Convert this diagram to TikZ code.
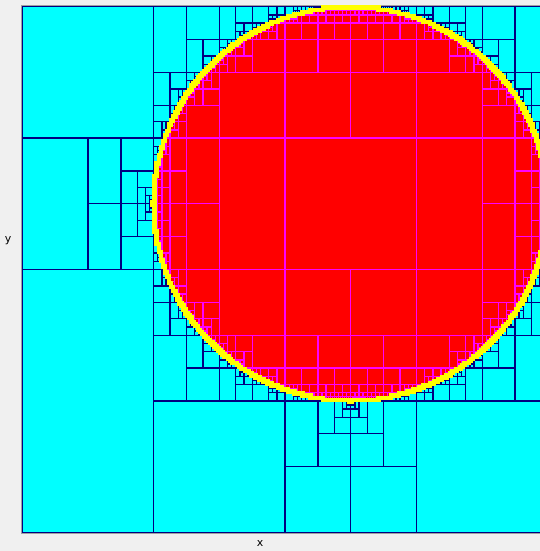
\documentclass[tikz,border=0pt]{standalone}
\usepackage{fontspec}
\setmainfont{DejaVu Sans}
\definecolor{bgc}{HTML}{F0F0F0}
\definecolor{framegrey}{HTML}{A0A0A0}
\definecolor{cyanc}{HTML}{00FFFF}
\definecolor{redc}{HTML}{FF0000}
\definecolor{magc}{HTML}{FF00FF}
\definecolor{navc}{HTML}{000080}
\definecolor{yelc}{HTML}{FFFF00}
\newdimen\qtu
\qtu=1.5398pt
\newcount\qtA \newcount\qtB \newcount\qtC \newcount\qtD
\def\qtcx{160}\def\qtcy{160}\def\qtrr{9216}
\def\qtmaxdepth{16}
\def\qtres{0}
\def\qtmode{0}
\def\qtuse{\pgfusepath{fill}}
% classify cell [#1,#3]x[#2,#4] against circle boundary
\def\qtclassify#1#2#3#4{%
  \qtA=\numexpr#1-\qtcx\relax \ifnum\qtA<0 \qtA=0 \fi
  \qtB=\numexpr\qtcx-#3\relax \ifnum\qtB>\qtA \qtA=\qtB\fi
  \qtB=\numexpr#2-\qtcy\relax \ifnum\qtB<0 \qtB=0 \fi
  \qtC=\numexpr\qtcy-#4\relax \ifnum\qtC>\qtB \qtB=\qtC\fi
  \qtD=\numexpr\qtA*\qtA+\qtB*\qtB\relax
  \ifnum\qtD>\qtrr\relax \gdef\qtres{0}\else
    \qtA=\numexpr#1-\qtcx\relax \ifnum\qtA<0 \qtA=-\qtA\fi
    \qtB=\numexpr#3-\qtcx\relax \ifnum\qtB<0 \qtB=-\qtB\fi
    \ifnum\qtB>\qtA \qtA=\qtB\fi
    \qtB=\numexpr#2-\qtcy\relax \ifnum\qtB<0 \qtB=-\qtB\fi
    \qtC=\numexpr#4-\qtcy\relax \ifnum\qtC<0 \qtC=-\qtC\fi
    \ifnum\qtC>\qtB \qtB=\qtC\fi
    \qtD=\numexpr\qtA*\qtA+\qtB*\qtB\relax
    \ifnum\qtD<\qtrr\relax \gdef\qtres{1}\else\gdef\qtres{2}\fi
  \fi}
\def\qtleaf#1#2#3#4#5{%
  \ifnum#1=\qtmode\relax
    \pgfpathrectanglecorners{\pgfqpoint{#2\qtu}{#3\qtu}}{\pgfqpoint{#4\qtu}{#5\qtu}}%
    \qtuse
  \fi}
\def\qtcell#1#2#3#4#5{%
  \qtclassify{#1}{#2}{#3}{#4}%
  \ifcase\qtres\relax
    \qtleaf{0}{#1}{#2}{#3}{#4}%
  \or
    \qtleaf{1}{#1}{#2}{#3}{#4}%
  \or
    \ifnum#5<\qtmaxdepth\relax
      \ifodd#5\relax
        \edef\qtnext{\noexpand\qtcell{#1}{#2}{#3}{\the\numexpr(#2+#4)/2\relax}{\the\numexpr#5+1\relax}%
          \noexpand\qtcell{#1}{\the\numexpr(#2+#4)/2\relax}{#3}{#4}{\the\numexpr#5+1\relax}}%
      \else
        \edef\qtnext{\noexpand\qtcell{#1}{#2}{\the\numexpr(#1+#3)/2\relax}{#4}{\the\numexpr#5+1\relax}%
          \noexpand\qtcell{\the\numexpr(#1+#3)/2\relax}{#2}{#3}{#4}{\the\numexpr#5+1\relax}}%
      \fi
      \qtnext
    \else
      \qtleaf{2}{#1}{#2}{#3}{#4}%
    \fi
  \fi}
\def\qtrun#1#2{\def\qtmode{#1}\def\qtuse{#2}\qtcell{0}{0}{256}{256}{0}}
\tikzset{axislabel/.style={font=\fontsize{8.2}{10}\selectfont, text=black, inner sep=0pt}}
\begin{document}
\begin{tikzpicture}[x=0.75pt,y=-0.75pt]
\fill[bgc] (0,0) rectangle (540,551);
\useasboundingbox (0,0) rectangle (540,551);
\clip (0,0) rectangle (540,551);
\draw[framegrey, line width=0.75pt] (21,5.6) rectangle (549.5,533.8);
\begin{scope}[shift={(22.3,532.3)}]
  \fill[cyanc] (0,0) rectangle (525.6,-525.6);
  \pgfsetlinewidth{1pt}
  \pgfsetfillcolor{redc}\qtrun{1}{\pgfusepath{fill}}
  \pgfsetstrokecolor{navc}\qtrun{0}{\pgfusepath{stroke}}
  \pgfsetstrokecolor{magc}\qtrun{1}{\pgfusepath{stroke}}
  \pgfsetlinewidth{1.9pt}
  \pgfsetfillcolor{yelc}\pgfsetstrokecolor{yelc}\qtrun{2}{\pgfusepath{fill,stroke}}
\end{scope}
\node[axislabel] (xl) at (260,544) {x};
\node[axislabel] (yl) at (8,241) {y};
\end{tikzpicture}
\end{document}
